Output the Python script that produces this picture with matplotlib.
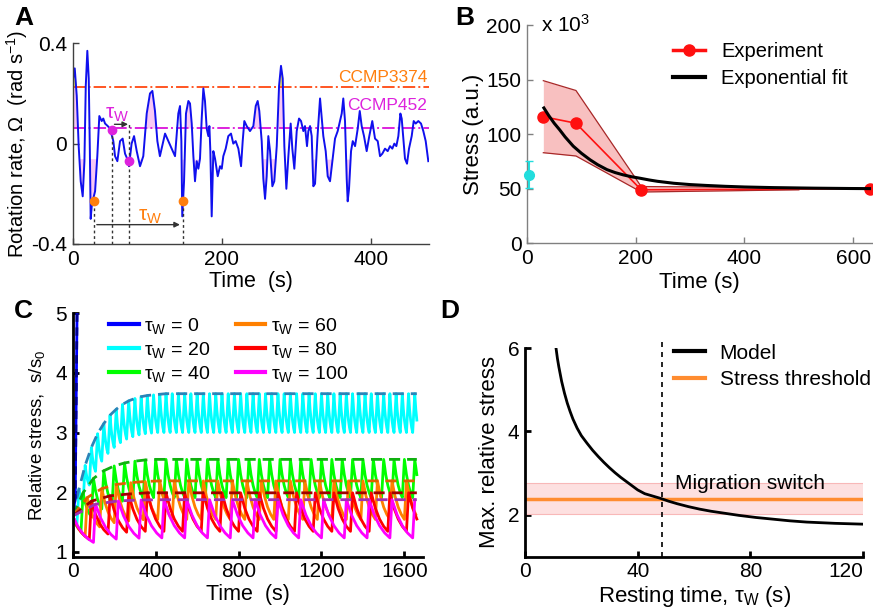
import numpy as np
import matplotlib
matplotlib.use("Agg")
import matplotlib.pyplot as plt
from matplotlib.lines import Line2D

plt.rcParams['font.family'] = ['Liberation Sans', 'DejaVu Sans']
plt.rcParams['mathtext.fontset'] = 'custom'
plt.rcParams['mathtext.rm'] = 'Liberation Sans'
plt.rcParams['mathtext.it'] = 'Liberation Sans:italic'
plt.rcParams['font.size'] = 15

# ---------------- panel A: rotation rate trace ----------------
trace_t = [0, 2.7, 5.4, 8, 10.7, 13.4, 15.7, 17.5, 19.6, 21.5, 23, 24.1, 25.5, 27.5, 30, 33,
           35.7, 38.9, 41, 43.4, 47, 50, 54.5, 56.8, 59.9, 63.5, 67, 70.2, 74.6, 75.5, 79, 82.3,
           85.9, 90.3, 94.7, 99.3, 103.7, 106.9, 110.4, 113.6, 117, 123.9, 128.3, 132.8, 137.3,
           141.7, 144, 145.8, 147, 149.4, 152, 155.2, 157.4, 159.7, 161.9, 164.1, 166.4, 168.6,
           170.8, 173.1, 175.3, 177.5, 179.8, 182, 183.4, 184.7, 186.5, 188.7, 191, 194.6, 197.7,
           200, 202.1, 205.3, 208.8, 212.4, 215.5, 218.7, 222.3, 225.9, 228.1, 230.3, 233.5,
           237.9, 242.4, 245.6, 248.2, 250.4, 253.6, 255.8, 258.1, 260.3, 262.5, 264.8, 267.9,
           270.5, 273.8, 276.9, 279.5, 281.8, 284, 286.7, 289.4, 292.5, 294.7, 297.4, 300.6,
           303.7, 306.4, 309.5, 311.7, 314.4, 316.2, 318.5, 320.7, 322.9, 325.2, 328.3, 331.9,
           334.2, 336.3, 339.5, 342.2, 345.3, 348.4, 352, 355.6, 358.7, 361, 363.1, 365.4, 367.7,
           369, 370.8, 373.5, 375.8, 378.9, 382.5, 385.2, 387.8, 390.9, 394.5, 398, 402, 405.7,
           409.3, 412.4, 415.5, 419.1, 422.7, 425.8, 428.9, 431.6, 434.3, 437, 439.7, 441.5,
           443.7, 445.9, 448.6, 451.3, 454.9, 457.6, 460.3, 463.8, 467.4, 470.5, 473.7, 477.2]
trace_w = [0.25, 0.30, 0.19, -0.01, -0.15, -0.21, -0.07, 0.23, 0.37, 0.26, -0.03, -0.30, -0.25,
           -0.22, -0.19, -0.05, 0.11, 0.09, 0.10, 0.08, 0.07, 0.06, 0.01, -0.05, -0.07, 0.01, 0.02,
           -0.04, -0.07, -0.09, 0.0, 0.03, -0.03, -0.09, -0.05, 0.12, 0.20, 0.21, 0.13, 0.01, -0.05,
           0.04, 0.01, -0.02, -0.05, 0.12, 0.15, 0.01, -0.29, -0.15, 0.12, 0.17, 0.16, 0.08, -0.05,
           -0.15, -0.07, -0.10, -0.06, 0.10, 0.22, 0.17, 0.06, 0.03, 0.07, -0.03, -0.29, -0.03,
           -0.06, -0.13, -0.09, -0.10, -0.05, -0.02, 0.03, 0.04, 0.0, 0.01, -0.02, -0.09, 0.01,
           0.09, 0.07, 0.05, 0.07, 0.15, 0.17, 0.13, 0.01, -0.14, -0.22, -0.13, 0.03, -0.03, -0.17,
           -0.15, -0.01, 0.23, 0.31, 0.26, -0.01, -0.18, -0.05, 0.08, -0.02, -0.10, 0.05, 0.10,
           0.09, 0.05, 0.07, -0.01, 0.05, 0.07, 0.03, -0.17, -0.16, 0.02, 0.18, 0.10, 0.03, -0.03,
           -0.13, -0.15, -0.07, 0.02, 0.05, 0.09, 0.12, 0.18, 0.09, -0.14, -0.23, -0.18, -0.03,
           0.01, -0.01, 0.06, 0.13, 0.07, 0.03, -0.03, 0.03, 0.09, 0.02, 0.01, -0.05, -0.04, -0.02,
           -0.03, -0.01, -0.02, 0.0, -0.01, 0.03, 0.12, 0.10, 0.02, -0.06, -0.08, -0.02, 0.03,
           0.09, 0.08, 0.09, 0.08, 0.05, 0.01, -0.07]
thr_3374 = 0.226
thr_452 = 0.062
pink_up_spans = [(0, 6), (98, 114), (150, 160), (240, 253), (274, 285)]
pink_dn_spans = [(5, 33), (87, 95), (143, 150), (163, 170), (253, 273), (322, 330), (338, 350), (365, 373)]
yellow_spans = [(0, 5), (276, 283)]
orange_dots_t = [28.6, 147.6]
orange_dots_w = [-0.23, -0.23]
magenta_dots_t = [52.3, 76.0]
magenta_dots_w = [0.056, -0.068]

# ---------------- panel B: stress vs time ----------------
exp_t = [30, 90, 210, 630]
exp_s = [116, 110, 49, 50]
band_t = [30, 90, 210, 500]
band_hi = [149, 140, 52, 51]
band_lo = [83, 80, 47, 49]
fit_t = [31, 40, 50, 60, 70, 85, 100, 116, 130, 147, 162, 177, 192, 208, 225, 240, 270, 300,
         330, 365, 400, 455, 530, 595, 630]
fit_s = [124, 117, 110, 104, 97.5, 89, 82.5, 76.5, 72, 67.5, 64.8, 62.7, 61, 59.6, 58, 56.8,
         55, 53.8, 53, 52.2, 51.6, 51, 50.5, 50.2, 50.1]
ctrl_t, ctrl_s, ctrl_lo, ctrl_hi = 4, 62.5, 50.5, 75

# ---------------- panel C: sawtooth stress model ----------------
swim = 10
t_end = 1660
rest_shape = [0.0, 0.4, 0.68, 0.87, 1.0]
cyan_peaks = [2.05, 2.45, 2.75, 2.98, 3.15, 3.29, 3.39, 3.47, 3.53, 3.57, 3.60, 3.62, 3.63, 3.64] + [3.65] * 45
cyan_troughs = [1.45, 1.83, 2.12, 2.35, 2.52, 2.65, 2.75, 2.83, 2.89, 2.93, 2.96, 2.98, 2.99] + [3.0] * 46
green_peaks = [1.99, 2.23, 2.36, 2.44, 2.49, 2.52, 2.54] + [2.55] * 30
green_troughs = [1.35, 1.59, 1.72, 1.80, 1.85, 1.88, 1.90] + [1.91] * 30
orange_peaks = [1.91, 2.06, 2.13, 2.16, 2.18] + [2.19] * 22
orange_troughs = [1.27, 1.42, 1.49, 1.52, 1.54] + [1.545] * 22
red_peaks = [1.85, 1.94, 1.97] + [1.99] * 18
red_troughs = [1.21, 1.30, 1.33] + [1.345] * 18
mag_peaks = [1.80, 1.855, 1.87] + [1.875] * 15
mag_troughs = [1.16, 1.215, 1.23] + [1.235] * 15
blue_t = [0, 12, 22]
blue_s = [1.6, 1.9, 5.4]

# ---------------- panel D: max stress vs resting time ----------------
model_tw = [11, 11.5, 12, 13, 14, 15, 16, 17, 18.5, 20, 22, 24, 26, 28, 30, 32, 34, 36, 38, 40,
            42.5, 45, 48, 51, 54, 58, 62, 66, 70, 76, 82, 88, 94, 100, 110, 120]
model_s = [6.0, 5.75, 5.55, 5.2, 4.92, 4.68, 4.48, 4.3, 4.08, 3.9, 3.72, 3.55, 3.4, 3.26, 3.13,
           3.01, 2.9, 2.8, 2.7, 2.6, 2.51, 2.46, 2.40, 2.33, 2.27, 2.2, 2.14, 2.09, 2.05, 1.99,
           1.94, 1.9, 1.86, 1.83, 1.8, 1.78]
threshold = 2.38
threshold_lo, threshold_hi = 2.02, 2.76
switch_tw = 48.8


def style_axis(ax, color='k', lw=1.0):
    for side in ['top', 'right']:
        ax.spines[side].set_visible(False)
    for side in ['left', 'bottom']:
        ax.spines[side].set_color(color)
        ax.spines[side].set_linewidth(lw)
    ax.tick_params(direction='in', length=4, width=lw, color=color, labelsize=15, pad=4)


def sawtooth(tw, peaks, troughs):
    t, s = [0.0], [1.6]
    t0, start = 0.0, 1.6
    n = len(rest_shape) - 1
    for p, tr in zip(peaks, troughs):
        for i in range(1, n + 1):
            t.append(t0 + tw * i / n)
            s.append(start + (tr - start) * rest_shape[i])
        t0 += tw
        t.append(t0 + swim)
        s.append(p)
        t0 += swim
        start = p
    t, s = np.array(t), np.array(s)
    keep = t <= t_end
    return t[keep], s[keep]


fig = plt.figure(figsize=(8.73, 6.13), dpi=100)

# ===== A =====
axA = fig.add_axes([0.0833, 0.602, 0.408, 0.3274])
style_axis(axA, color='#404040')
tA = np.array(trace_t)
wA = np.array(trace_w)
for a, b in pink_up_spans:
    m = (tA >= a) & (tA <= b)
    axA.fill_between(tA, thr_452, wA, where=m & (wA > thr_452), interpolate=True,
                     color='#f8c8f4', lw=0)
for a, b in pink_dn_spans:
    m = (tA >= a) & (tA <= b)
    axA.fill_between(tA, -thr_452, wA, where=m & (wA < -thr_452), interpolate=True,
                     color='#f8c8f4', lw=0)
for a, b in yellow_spans:
    m = (tA >= a) & (tA <= b)
    axA.fill_between(tA, thr_3374, wA, where=m & (wA > thr_3374), interpolate=True,
                     color='#e8e060', lw=0)
axA.axhline(thr_3374, color='#ff5522', ls='-.', lw=1.4)
axA.axhline(thr_452, color='#dd22dd', ls='-.', lw=1.4)
axA.plot(tA, wA, color='#1010ee', lw=1.4)
# dotted drop lines and arrows
for tt, ww in [(28.6, -0.23), (52.3, 0.056), (76.0, 0.077), (147.6, -0.23)]:
    axA.plot([tt, tt], [-0.4, ww], color='#333333', ls=(0, (2, 2)), lw=1)
axA.annotate('', xy=(78, 0.077), xytext=(52.3, 0.077),
             arrowprops=dict(arrowstyle='-|>', color='#333333', lw=1, mutation_scale=8))
axA.annotate('', xy=(147.6, -0.323), xytext=(28.6, -0.323),
             arrowprops=dict(arrowstyle='-|>', color='#333333', lw=1, mutation_scale=8))
axA.plot(orange_dots_t, orange_dots_w, 'o', color='#ff7f0e', ms=6, zorder=5)
axA.plot(magenta_dots_t, magenta_dots_w, 'o', color='#dd22dd', ms=6, zorder=5)
axA.text(60, 0.117, r'τ$_{\rm W}$', color='#dd22dd', fontsize=15, ha='center', va='center')
axA.text(104, -0.29, r'τ$_{\rm W}$', color='#ff7f0e', fontsize=15, ha='center', va='center')
axA.text(476, 0.265, 'CCMP3374', color='#ff7f0e', fontsize=12.5, ha='right', va='center')
axA.text(476, 0.153, 'CCMP452', color='#dd22dd', fontsize=12.5, ha='right', va='center')
axA.set_xlim(0, 478)
axA.set_ylim(-0.4, 0.4)
axA.set_xticks([0, 200, 400])
axA.set_yticks([-0.4, 0, 0.4])
axA.set_yticklabels(['-0.4', '0', '0.4'])
axA.set_xlabel('Time  (s)', fontsize=15.5, labelpad=2)
axA.set_ylabel(r'Rotation rate, Ω  (rad s$^{-1}$)', fontsize=14.5, labelpad=1)

# ===== B =====
axB = fig.add_axes([0.6037, 0.6031, 0.3948, 0.3561])
style_axis(axB, color='#808080')
axB.fill_between(band_t, band_lo, band_hi, color='#f8c0c0', lw=0)
axB.plot(band_t, band_hi, color='#a82828', lw=0.9)
axB.plot(band_t, band_lo, color='#a82828', lw=0.9)
axB.plot(exp_t, exp_s, '-o', color='#ff1010', lw=1.2, ms=8)
axB.plot(fit_t, fit_s, color='k', lw=2.2)
axB.errorbar([ctrl_t], [ctrl_s], yerr=[[ctrl_s - ctrl_lo], [ctrl_hi - ctrl_s]], fmt='o',
             color='#22dddd', ms=7, capsize=3, lw=1.5, clip_on=False, zorder=6)
axB.set_xlim(0, 634)
axB.set_ylim(0, 200)
axB.set_xticks([0, 200, 400, 600])
axB.set_yticks([0, 50, 100, 150, 200])
axB.set_xlabel('Time (s)', fontsize=16, labelpad=3)
axB.set_ylabel('Stress (a.u.)', fontsize=16, labelpad=2)
axB.text(0.04, 1.0, r'x 10$^3$', transform=axB.transAxes, fontsize=15, va='center')
hB = [Line2D([], [], color='#ff1010', lw=2.5, marker='o', ms=8),
      Line2D([], [], color='k', lw=3)]
axB.legend(hB, ['Experiment', 'Exponential fit'], loc='upper left',
           bbox_to_anchor=(0.37, 1.005), frameon=False, fontsize=14.5, handlelength=1.6,
           handletextpad=0.8, labelspacing=0.4)

# ===== C =====
axC = fig.add_axes([0.0833, 0.0918, 0.4013, 0.3975])
style_axis(axC, color='k', lw=2)
cfg = [(20, cyan_peaks, cyan_troughs, '#00ffff', '#2a84b8'),
       (40, green_peaks, green_troughs, '#00ff00', '#10b010'),
       (60, orange_peaks, orange_troughs, '#ff8000', '#e06000'),
       (80, red_peaks, red_troughs, '#ff0000', '#a00000'),
       (100, mag_peaks, mag_troughs, '#ff00ff', '#a030b0')]
for tw, pk, tr, col, dcol in cfg:
    tt, ss = sawtooth(tw, pk, tr)
    axC.plot(tt, ss, color=col, lw=2)
for tw, pk, tr, col, dcol in cfg:
    tt, ss = sawtooth(tw, pk, tr)
    ppk = np.concatenate([[0.0], tt[len(rest_shape)::len(rest_shape)], [t_end]])
    env = np.concatenate([[1.6], ss[len(rest_shape)::len(rest_shape)]])
    env = np.append(env, env[-1])
    axC.plot(ppk, env, color=dcol, lw=2, ls=(0, (4, 2.5)))
axC.plot(blue_t, blue_s, color='#0000ff', lw=2)
axC.plot(blue_t, blue_s, color='#000090', lw=2, ls=(0, (3, 2)))
axC.set_xlim(0, 1690)
axC.set_ylim(0.92, 5.0)
axC.set_xticks([0, 400, 800, 1200, 1600])
axC.set_yticks([1, 2, 3, 4, 5])
axC.set_xlabel('Time  (s)', fontsize=15.5, labelpad=2)
axC.set_ylabel(r'Relative stress,  s/s$_0$', fontsize=13.5, labelpad=6)
legC_cols = ['#0000ff', '#00ffff', '#00ff00', '#ff8000', '#ff0000', '#ff00ff']
legC_lab = [r'τ$_{\rm W}$ = %d' % v for v in [0, 20, 40, 60, 80, 100]]
hC = [Line2D([], [], color=c, lw=3) for c in legC_cols]
axC.legend(hC, legC_lab, ncol=2, loc='upper left', bbox_to_anchor=(0.055, 1.06),
           frameon=False, fontsize=14, handlelength=1.5, handletextpad=0.3,
           columnspacing=1.3, labelspacing=0.2)

# ===== D =====
axD = fig.add_axes([0.6014, 0.0918, 0.3872, 0.3405])
style_axis(axD, color='k', lw=2)
axD.axhspan(threshold_lo, threshold_hi, color='#fde0e0', lw=0)
axD.axhline(threshold_lo, color='#f8b8b8', lw=0.8)
axD.axhline(threshold_hi, color='#f8b8b8', lw=0.8)
axD.axhline(threshold, color='#ff8c30', lw=2.5)
axD.plot(model_tw, model_s, color='k', lw=2)
axD.plot([switch_tw, switch_tw], [1, 6.15], color='k', ls=(0, (3, 3)), lw=1.2, clip_on=False)
axD.text(53.2, 2.76, 'Migration switch', fontsize=15, va='center', ha='left')
axD.set_xlim(0, 120)
axD.set_ylim(1, 6)
axD.set_xticks([0, 40, 80, 120])
axD.set_yticks([2, 4, 6])
axD.get_xticklabels()[-1].set_horizontalalignment('right')
axD.set_xlabel(r'Resting time, τ$_{\rm W}$ (s)', fontsize=16, labelpad=2)
axD.set_ylabel('Max. relative stress', fontsize=16, labelpad=6)
hD = [Line2D([], [], color='k', lw=3), Line2D([], [], color='#ff8c30', lw=3)]
axD.legend(hD, ['Model', 'Stress threshold'], loc='upper left', bbox_to_anchor=(0.385, 1.11),
           frameon=False, fontsize=15, handlelength=1.5, handletextpad=0.7, labelspacing=0.35)

# panel letters
for lab, x, y in [('A', 0.016, 0.97), ('B', 0.522, 0.97), ('C', 0.016, 0.493), ('D', 0.504, 0.493)]:
    fig.text(x, y, lab, fontsize=19, fontweight='bold', va='center', ha='left')

fig.savefig('out.png', dpi=100)
